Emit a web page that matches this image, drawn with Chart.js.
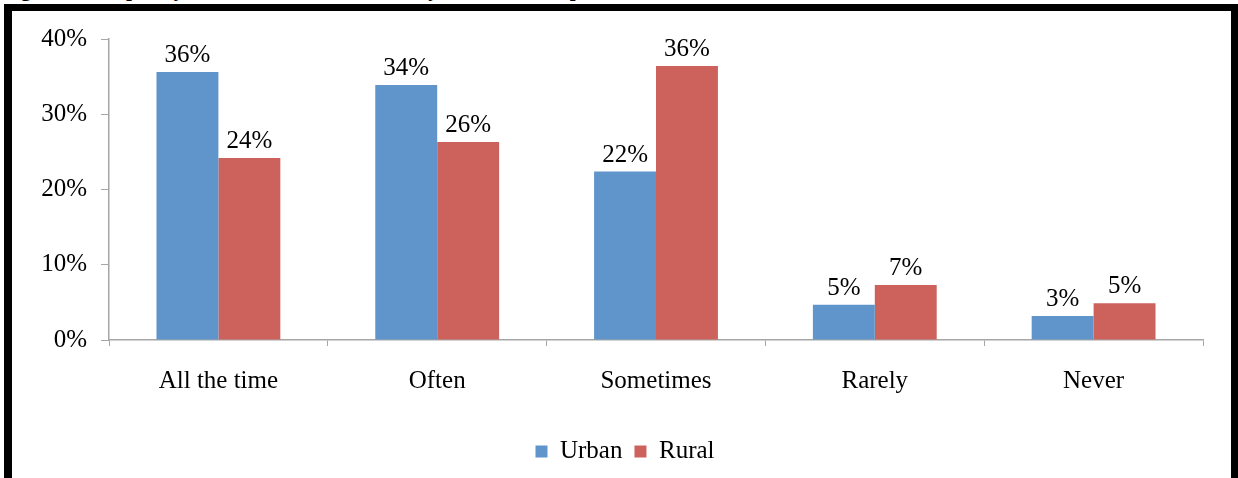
<!DOCTYPE html>
<html>
<head>
<meta charset="utf-8">
<script src="https://cdn.jsdelivr.net/npm/chart.js@4/dist/chart.umd.min.js"></script>
<style>
  html, body { margin: 0; padding: 0; background: #fff; }
  body { width: 1238px; height: 478px; position: relative; overflow: hidden; }
  .title {
    position: absolute; left: 2px; top: -23px; white-space: nowrap;
    font: bold 21px "Liberation Serif", "Times New Roman", serif; color: #000;
  }
  .frame {
    position: absolute; left: 4px; top: 4px; width: 1219px; height: 490px;
    border-left: 8px solid #000; border-top: 7px solid #000; border-right: 7px solid #000;
    background: #fff;
  }
  #chart { position: absolute; left: 0; top: 0; }
</style>
</head>
<body>
<div class="title">Figure 4: Frequency of occurrence of violence by location of respondent</div>
<div class="frame"></div>
<canvas id="chart" width="1238" height="478"></canvas>
<script>
// values (percent)
const categories = ['All the time', 'Often', 'Sometimes', 'Rarely', 'Never']
const urban = [35.6, 33.9, 22.4, 4.7, 3.2]
const rural = [24.2, 26.3, 36.4, 7.3, 4.9]
const yTicks = [0, 10, 20, 30, 40]

const serif = '"Liberation Serif", "Times New Roman", serif'
const axisGray = '#a6a6a6'

// draw the rounded value above each bar
const barLabels = {
  id: 'barLabels',
  afterDatasetsDraw(chart) {
    const ctx = chart.ctx
    ctx.save()
    ctx.font = '25px ' + serif
    ctx.fillStyle = '#000'
    ctx.textAlign = 'center'
    ctx.textBaseline = 'bottom'
    chart.data.datasets.forEach((ds, i) => {
      chart.getDatasetMeta(i).data.forEach((bar, j) => {
        ctx.fillText(Math.round(ds.data[j]) + '%', bar.x, bar.y - 4)
      })
    })
    ctx.restore()
  }
}

new Chart(document.getElementById('chart'), {
  type: 'bar',
  data: {
    labels: categories,
    datasets: [
      { label: 'Urban', data: urban, backgroundColor: '#5f95ca' },
      { label: 'Rural', data: rural, backgroundColor: '#cd625d' }
    ]
  },
  options: {
    responsive: false,
    animation: false,
    events: [],
    datasets: { bar: { categoryPercentage: 0.566, barPercentage: 1.0 } },
    layout: { padding: { left: 12, right: 0, top: 39, bottom: 4 } },
    plugins: {
      tooltip: { enabled: false },
      legend: {
        position: 'bottom',
        labels: {
          color: '#000',
          font: { family: serif, size: 25 },
          boxWidth: 12,
          boxHeight: 12,
          padding: 12
        }
      }
    },
    scales: {
      x: {
        afterFit(scale) { scale.height = 87 },
        grid: {
          display: true,
          drawOnChartArea: false,
          offset: true,
          tickLength: 6,
          color: axisGray
        },
        border: { color: axisGray, width: 1.5 },
        ticks: { color: '#000', font: { family: serif, size: 25 }, padding: 20 }
      },
      y: {
        min: 0,
        max: 40,
        afterFit(scale) { scale.width = 97 },
        afterBuildTicks(scale) { scale.ticks = yTicks.map(v => ({ value: v })) },
        grid: {
          display: true,
          drawOnChartArea: false,
          tickLength: 8,
          color: axisGray
        },
        border: { color: axisGray, width: 1.5 },
        ticks: {
          color: '#000',
          font: { family: serif, size: 25 },
          padding: 14,
          callback: v => v + '%'
        }
      },
      // empty right-hand spacer so the legend stays centred on the page
      spacer: {
        type: 'linear',
        position: 'right',
        display: true,
        afterFit(scale) { scale.width = 35 },
        grid: { display: false },
        border: { display: false },
        ticks: { display: false }
      }
    }
  },
  plugins: [barLabels]
})
</script>
</body>
</html>
